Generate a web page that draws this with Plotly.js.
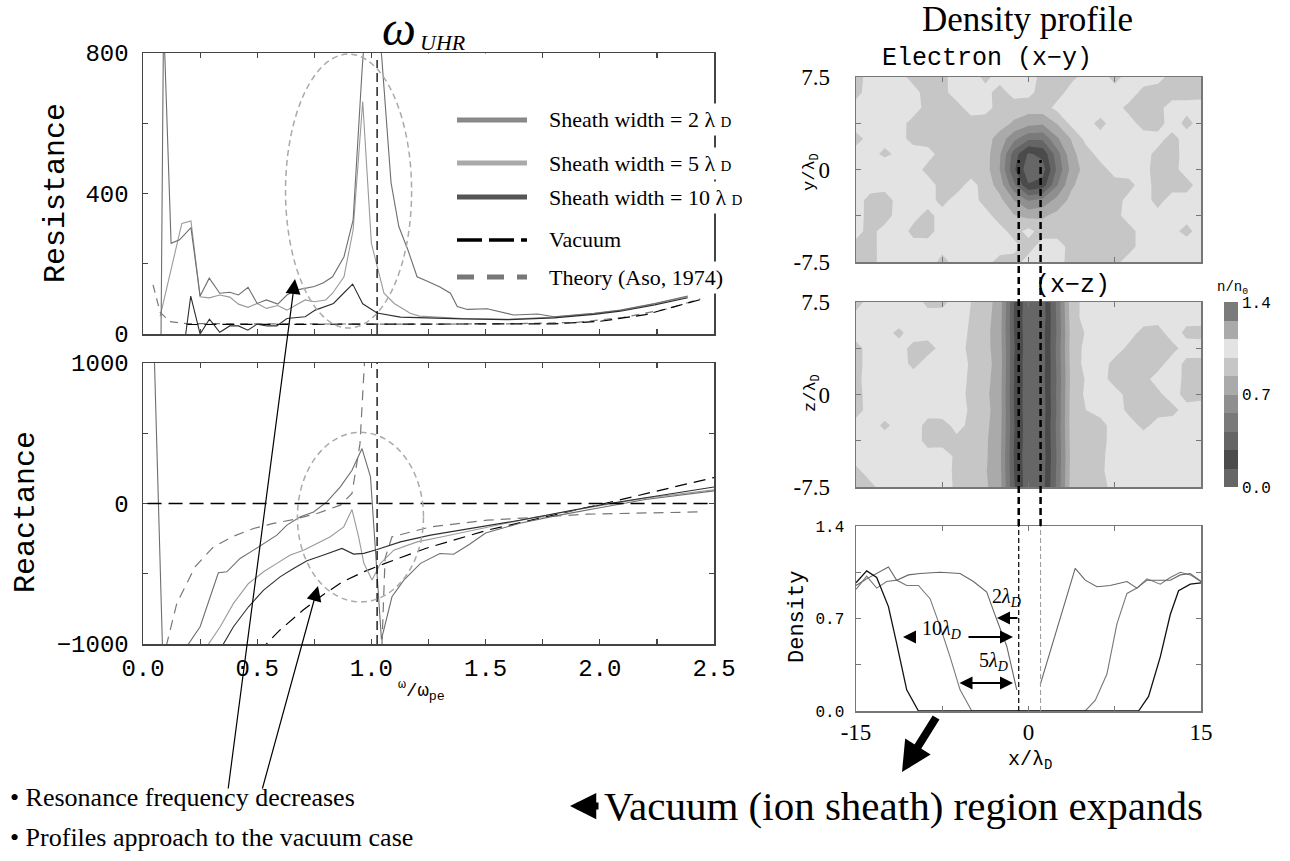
<!DOCTYPE html>
<html><head><meta charset="utf-8">
<script src="https://cdn.plot.ly/plotly-3.0.1.min.js"></script>
<style>html,body{margin:0;padding:0;background:#fff}#chart{width:1290px;height:861px}</style>
</head><body><div id="chart"></div>
<script>
const W=1290,H=861;
const fx=p=>p/W, fy=p=>1-p/H;
const SERIF='"Liberation Serif","Times New Roman",serif';
const MONO='"Liberation Mono","Courier New",monospace';

// ---------- Resistance (top-left) ----------
const R_2LD_X=[0.079,0.09,0.123,0.16,0.21,0.25,0.29,0.336,0.38,0.418,0.46,0.5,0.54,0.59,0.63,0.67,0.75,0.79,0.83,0.88,0.92,0.96,1.0,1.045,1.086,1.12,1.16,1.2,1.25,1.3,1.346,1.376,1.42,1.507,1.623,1.727,1.8,1.975,2.09,2.24,2.385];
const R_2LD=[0,900,258,268,303,108,159,116,119,111,133,87,97,85,111,125,135,146,163,220,325,760,1100,790,431,306,239,163,149,134,116,78,70,72,54,57,49,59,68,87,108];
const R_5LD_X=[0.075,0.17,0.21,0.25,0.29,0.336,0.38,0.418,0.46,0.5,0.54,0.59,0.63,0.67,0.71,0.75,0.8,0.83,0.88,0.92,0.962,1.0,1.025,1.055,1.1,1.17,1.21,1.26,1.4,1.6,1.8,1.975,2.09,2.24,2.385];
const R_5LD=[50,315,322,106,103,111,105,85,76,87,73,81,68,83,97,92,97,116,163,296,662,258,192,116,87,59,51,49,44,42,48,58,67,86,106];
const R_10LD_X=[0.187,0.209,0.25,0.291,0.336,0.38,0.418,0.459,0.499,0.543,0.586,0.63,0.674,0.71,0.754,0.798,0.834,0.878,0.918,0.962,1.025,1.127,1.259,1.4,1.6,1.8,1.975,2.09,2.24,2.385];
const R_10LD=[0,108,0,42,5,23,23,11,28,23,23,44,47,49,68,79,87,116,142,86,60,48,45,43,41,46,56,65,83,103];
const R_TH_X=[0.044,0.075,0.118,0.184,0.4,0.8,1.2,1.6,1.9,2.1,2.3,2.44];
const R_TH=[140,62,35,30,29,28,28,29,33,47,72,100];
const R_VAC_X=[0.19,0.6,1.0,1.4,1.8,2.0,2.2,2.44];
const R_VAC=[27,27,27,27,29,36,55,98];

// ---------- Reactance (bottom-left) ----------
const X_2LD_X=[0.04,0.09,0.13,0.199,0.25,0.294,0.33,0.367,0.425,0.484,0.542,0.586,0.63,0.689,0.747,0.805,0.864,0.915,0.959,0.996,1.044,1.09,1.142,1.215,1.3,1.36,1.43,1.5,1.65,1.8,2.0,2.2,2.5];
const X_2LD=[1600,-1300,-1800,-1000,-877,-664,-493,-486,-391,-332,-273,-225,-154,-95,-60,11,118,237,391,189,-967,-664,-545,-426,-356,-361,-290,-210,-140,-90,-30,28,90];
const X_5LD_X=[0.2,0.287,0.338,0.396,0.462,0.528,0.586,0.645,0.703,0.762,0.82,0.879,0.915,0.944,0.967,1.003,1.04,1.098,1.2,1.3,1.5,1.65,1.8,2.0,2.2,2.5];
const X_5LD=[-1500,-1000,-877,-711,-569,-486,-426,-367,-332,-284,-237,-166,-43,-237,-426,-545,-426,-332,-273,-240,-170,-120,-75,-15,38,98];
const X_10LD_X=[0.3,0.352,0.396,0.462,0.528,0.6,0.659,0.718,0.791,0.871,0.922,0.967,1.025,1.127,1.259,1.65,2.02,2.5];
const X_10LD=[-1300,-1000,-877,-735,-616,-522,-462,-408,-367,-320,-360,-355,-327,-273,-225,-119,-5,118];
const X_TH_X=[0.08,0.104,0.148,0.228,0.309,0.396,0.484,0.571,0.659,0.762,0.864,0.915,0.95,0.975,0.99,null,1.035,1.06,1.09,1.26,1.507,1.946,2.457];
const X_TH=[-1500,-1000,-711,-450,-308,-233,-178,-142,-114,-71,-12,71,426,1000,1600,null,-1500,-390,-237,-166,-119,-76,-59];
const X_VAC_X=[0.5,0.54,0.6,0.7,0.78,0.87,0.967,1.054,1.237,1.507,2.02,2.5];
const X_VAC=[-1200,-1000,-900,-760,-660,-560,-486,-430,-320,-190,0,185];

const FREQ_TICKS=[0,0.25,0.5,0.75,1,1.25,1.5,1.75,2,2.25,2.5];
const FREQ_LABELS=['0.0','','0.5','','1.0','','1.5','','2.0','','2.5'];
const W_UHR=1.025;

// ---------- Density maps ----------
const GX=[-15,-13.75,-12.5,-11.25,-10,-8.75,-7.5,-6.25,-5,-3.75,-2.5,-1.25,0,1.25,2.5,3.75,5,6.25,7.5,8.75,10,11.25,12.5,13.75,15];
const GY=[-7.5,-6.25,-5,-3.75,-2.5,-1.25,0,1.25,2.5,3.75,5,6.25,7.5];
const XY_Z=[
[0.93,0.94,1.03,1.04,1.02,1.05,0.94,1.03,1.04,1.02,0.94,0.93,1.03,1.04,1.02,0.94,0.93,0.92,0.94,1.04,1.02,1.03,1.04,1.12,1.05],
[0.94,0.93,1.04,1.02,1.03,1.04,1.02,1.05,1.03,1.04,1.03,1.02,0.93,1.04,1.03,0.94,0.93,0.92,0.94,0.93,1.04,1.02,1.03,1.05,1.03],
[1.02,0.94,1.03,1.05,0.94,0.93,1.04,1.03,1.02,1.04,1.03,0.93,1.02,0.92,0.93,0.94,0.92,0.93,0.92,0.94,1.03,1.04,1.02,0.94,1.04],
[1.04,0.93,0.92,1.04,1.02,0.94,1.03,1.02,1.04,1.03,0.92,0.85,0.80,0.82,0.88,0.92,0.91,0.93,0.94,1.03,1.04,1.02,1.05,1.03,1.02],
[1.03,0.94,0.93,1.02,1.04,1.03,0.94,1.03,1.04,0.93,0.88,0.70,0.55,0.60,0.75,0.88,0.92,0.91,0.93,1.02,1.03,0.94,1.03,1.02,1.04],
[1.04,1.03,1.02,1.05,1.03,1.04,0.93,0.92,1.03,0.92,0.78,0.45,0.15,0.20,0.55,0.82,0.91,0.92,0.93,0.94,1.04,0.93,0.93,0.94,1.03],
[1.02,1.04,1.12,1.03,1.04,0.94,0.93,0.92,0.91,0.90,0.70,0.30,0.05,0.08,0.45,0.75,0.90,0.93,1.03,1.04,1.02,0.93,0.94,1.03,1.05],
[1.03,1.04,0.94,1.02,1.05,1.03,0.93,0.92,0.91,0.90,0.72,0.35,0.12,0.18,0.50,0.80,0.92,1.03,1.04,1.02,1.03,0.94,0.93,1.03,1.04],
[0.94,1.02,1.04,1.03,0.93,0.92,0.90,0.91,0.92,0.90,0.78,0.60,0.45,0.45,0.68,0.85,1.02,1.03,1.05,1.02,1.04,1.03,0.93,1.04,1.02],
[1.04,1.03,1.05,1.02,0.94,0.92,0.91,0.93,0.92,0.91,0.90,0.82,0.75,0.72,0.85,1.02,1.03,0.94,1.04,1.03,0.93,0.92,1.05,0.94,1.03],
[1.03,1.05,1.02,1.04,1.03,0.94,0.92,0.93,1.04,1.03,0.93,0.91,0.90,0.92,1.02,1.04,1.03,1.05,1.03,0.94,0.93,0.94,1.04,1.02,1.04],
[0.94,1.04,1.03,1.05,1.02,0.93,0.94,1.04,1.03,1.02,0.93,1.03,1.02,0.92,0.93,1.03,1.04,1.02,1.03,1.05,0.94,0.93,0.92,0.94,0.93],
[0.93,1.03,1.04,1.02,0.94,0.92,0.95,1.03,1.04,0.95,1.03,1.02,1.04,0.94,0.93,0.95,1.03,1.04,0.94,1.03,1.05,1.02,0.94,0.93,0.95]];
const XZ_Z=[
[0.94,0.95,1.03,1.04,1.02,1.05,1.03,0.96,0.92,0.86,0.76,0.29,0.05,0.09,0.46,0.91,0.93,0.94,1.02,1.04,1.03,1.05,1.02,1.04,1.03],
[0.95,1.03,1.04,1.05,1.03,1.02,1.04,0.95,0.91,0.85,0.75,0.28,0.05,0.08,0.45,0.90,0.94,0.96,1.03,1.04,1.02,1.04,1.03,1.05,1.03],
[1.03,1.05,1.03,1.04,1.02,1.04,1.03,0.96,0.92,0.86,0.74,0.27,0.04,0.07,0.44,0.89,0.93,0.95,1.04,1.02,1.03,1.05,1.04,1.03,1.04],
[1.04,1.03,1.04,1.02,1.05,0.93,0.94,0.95,0.93,0.86,0.75,0.28,0.05,0.08,0.45,0.90,0.95,0.94,1.03,1.05,1.04,1.03,1.05,1.04,1.02],
[1.02,1.04,0.95,1.03,1.04,0.94,0.93,1.02,0.95,0.87,0.76,0.29,0.05,0.08,0.46,0.91,0.97,0.93,1.04,1.03,0.95,1.02,1.04,1.03,1.05],
[0.94,1.02,1.05,1.03,1.04,1.03,1.05,1.04,0.96,0.88,0.77,0.28,0.04,0.07,0.44,0.91,0.98,1.03,1.04,0.95,0.93,0.94,0.94,1.03,1.04],
[0.93,1.04,1.12,1.03,1.05,1.02,1.04,1.03,0.95,0.87,0.76,0.27,0.05,0.08,0.45,0.90,1.00,1.04,1.03,0.94,0.93,0.95,1.04,0.93,0.94],
[0.95,1.03,1.04,1.02,1.05,1.03,1.04,1.03,0.96,0.88,0.77,0.28,0.05,0.09,0.44,0.89,0.99,1.03,0.93,0.92,0.94,1.03,1.05,0.94,0.93],
[0.93,1.04,1.03,1.05,0.94,1.04,1.03,1.02,0.97,0.89,0.78,0.28,0.04,0.08,0.45,0.90,1.02,1.04,0.94,0.93,0.92,0.93,1.04,0.95,0.94],
[0.94,1.03,1.05,1.03,0.94,0.93,1.02,1.03,0.95,0.88,0.77,0.29,0.05,0.08,0.46,0.91,1.01,1.03,1.04,0.95,0.93,0.92,0.94,1.03,1.05],
[1.03,1.05,1.02,0.95,1.04,1.03,1.02,1.04,0.96,0.88,0.76,0.28,0.05,0.09,0.44,0.90,0.99,1.04,1.05,1.03,0.94,0.93,1.04,0.95,0.93],
[1.02,1.04,1.03,1.05,1.02,1.04,1.03,1.05,0.97,0.89,0.77,0.27,0.04,0.07,0.45,0.92,1.03,1.05,1.04,1.02,1.04,1.03,1.05,1.02,1.04],
[0.93,1.03,1.04,1.02,1.05,0.94,0.95,1.03,0.98,0.90,0.78,0.28,0.05,0.08,0.46,0.93,1.02,1.04,1.03,1.05,1.02,1.04,1.03,1.05,1.02]];

// colour levels n/n0
const LEVEL_START=0.14, LEVEL_END=1.26, LEVEL_STEP=0.14;
const BAND_MID=[0.07,0.21,0.35,0.49,0.63,0.77,0.91,1.05,1.19,1.33];
const BAND_COLORS=['#666666','#4b4b4b','#656565','#7a7a7a','#8f8f8f','#aaaaaa','#c6c6c6','#e3e3e3','#aaaaaa','#7b7b7b'];
const CB_TICKS=[0,0.7,1.4];

// ---------- Density profiles ----------
const D_10LD_X=[-15,-14.07,-13.2,-12.18,-11.46,-10.59,-9.57,9.57,10.44,11.46,12.33,13.05,14.07,15];
const D_10LD=[0.97,1.06,1.01,0.79,0.51,0.16,0.0,0.0,0.11,0.41,0.73,0.91,0.96,0.97];
const D_5LD_X=[-15,-14.07,-13.2,-12.33,-11.46,-10.59,-9.57,-8.56,-7.69,-6.82,-5.95,-4.93,4.93,5.8,6.82,7.69,8.56,9.43,10.3,11.46,12.33,13.2,14.07,15];
const D_5LD=[0.92,1.02,0.93,0.98,0.99,0.95,0.95,0.85,0.64,0.41,0.16,0.0,0.0,0.08,0.28,0.66,0.89,0.93,1.0,0.96,1.01,1.05,1.03,0.98];
const D_2LD_X=[-15,-14.07,-12.18,-11.46,-10.44,-9.43,-7.69,-5.95,-4.79,-3.63,-3.05,-1.89,-1.02,null,1.02,2.18,3.05,4.06,4.93,5.95,7.1,8.56,9.43,10.3,11.46,12.33,13.2,14.07,15];
const D_2LD=[0.95,1.0,1.09,0.99,1.03,1.04,1.05,1.04,0.98,0.9,0.76,0.49,0.16,null,0.2,0.54,0.79,1.08,0.99,0.94,0.95,0.98,0.93,0.99,0.99,0.99,1.03,1.04,0.98];
const SHEATH_EDGE=[-0.85,1.05];

// ---------- traces ----------
const C2='#6e6e6e', C5='#9a9a9a', C10='#2e2e2e', CTH='#777777';
function ln(x,y,xa,ya,color,width,dash){return {type:'scatter',mode:'lines',x:x,y:y,xaxis:xa,yaxis:ya,line:{color:color,width:width,dash:dash||'solid'},hoverinfo:'skip',showlegend:false};}
const step=BAND_COLORS.map((c,i)=>[i/9,c]);
const traces=[
 ln(R_TH_X,R_TH,'x','y',CTH,1.2,'8px,6px'),
 ln(R_VAC_X,R_VAC,'x','y','#000',1.2,'12px,6px'),
 ln(R_5LD_X,R_5LD,'x','y',C5,1.1),
 ln(R_2LD_X,R_2LD,'x','y',C2,1.1),
 ln(R_10LD_X,R_10LD,'x','y',C10,1.1),
 ln(X_TH_X,X_TH,'x2','y2',CTH,1.2,'10px,7px'),
 ln(X_VAC_X,X_VAC,'x2','y2','#000',1.2,'12px,7px'),
 ln(X_5LD_X,X_5LD,'x2','y2',C5,1.1),
 ln(X_2LD_X,X_2LD,'x2','y2',C2,1.1),
 ln(X_10LD_X,X_10LD,'x2','y2',C10,1.1),
 {type:'contour',x:GX,y:GY,z:XY_Z,xaxis:'x3',yaxis:'y3',colorscale:step,showscale:false,hoverinfo:'skip',
  contours:{start:LEVEL_START,end:LEVEL_END,size:LEVEL_STEP,coloring:'fill',showlines:false},line:{width:0,smoothing:0}},
 {type:'contour',x:GX,y:GY,z:XZ_Z,xaxis:'x4',yaxis:'y4',colorscale:step,showscale:false,hoverinfo:'skip',
  contours:{start:LEVEL_START,end:LEVEL_END,size:LEVEL_STEP,coloring:'fill',showlines:false},line:{width:0,smoothing:0}},
 {type:'heatmap',x:[0],y:BAND_MID,z:BAND_MID.map(v=>[v]),xaxis:'x6',yaxis:'y6',colorscale:step,zmin:BAND_MID[0],zmax:BAND_MID[9],showscale:false,hoverinfo:'skip'},
 ln(D_5LD_X,D_5LD,'x5','y5','#777',1.1),
 ln(D_2LD_X,D_2LD,'x5','y5','#666',1.1),
 ln(D_10LD_X,D_10LD,'x5','y5','#111',1.3)
];

// ---------- axes ----------
function ax(o){return Object.assign({showline:true,linecolor:'#444',linewidth:1.5,mirror:'ticks',ticks:'inside',ticklen:5,tickwidth:1.2,tickcolor:'#444',showgrid:false,zeroline:false,automargin:false,fixedrange:true,tickmode:'array'},o);}
const GRAYAX={linecolor:'#777',tickcolor:'#777'};
const layout={
 width:W,height:H,margin:{l:0,r:0,t:0,b:0},paper_bgcolor:'#fff',plot_bgcolor:'rgba(0,0,0,0)',showlegend:false,
 font:{family:MONO,color:'#000'},
 xaxis:ax({domain:[fx(143),fx(714)],range:[0,2.5],anchor:'y',tickvals:FREQ_TICKS,showticklabels:false}),
 yaxis:ax({domain:[fy(334),fy(53)],range:[0,800],anchor:'x',tickvals:[0,200,400,600,800],ticktext:['0','','400','','800'],tickfont:{family:MONO,size:24},ticklabelstandoff:8}),
 xaxis2:ax({domain:[fx(143),fx(714)],range:[0,2.5],anchor:'y2',tickvals:FREQ_TICKS,ticktext:FREQ_LABELS,tickfont:{family:MONO,size:24},ticklabelstandoff:2}),
 yaxis2:ax({domain:[fy(644),fy(363)],range:[-1000,1000],anchor:'x2',tickvals:[-1000,-500,0,500,1000],ticktext:['\u22121000','','0','','1000'],tickfont:{family:MONO,size:24},ticklabelstandoff:8}),
 xaxis3:ax(Object.assign({domain:[fx(856),fx(1201)],range:[-15,15],anchor:'y3',tickvals:[-15,-7.5,0,7.5,15],showticklabels:false},GRAYAX)),
 yaxis3:ax(Object.assign({domain:[fy(262),fy(77)],range:[-7.5,7.5],anchor:'x3',tickvals:[-7.5,-3.75,0,3.75,7.5],ticktext:['-7.5','','0','','7.5'],tickfont:{family:SERIF,size:23},ticklabelstandoff:20},GRAYAX)),
 xaxis4:ax(Object.assign({domain:[fx(856),fx(1201)],range:[-15,15],anchor:'y4',tickvals:[-15,-7.5,0,7.5,15],showticklabels:false},GRAYAX)),
 yaxis4:ax(Object.assign({domain:[fy(487),fy(302)],range:[-7.5,7.5],anchor:'x4',tickvals:[-7.5,-3.75,0,3.75,7.5],ticktext:['-7.5','','0','','7.5'],tickfont:{family:SERIF,size:23},ticklabelstandoff:20},GRAYAX)),
 xaxis5:ax(Object.assign({domain:[fx(856),fx(1201)],range:[-15,15],anchor:'y5',tickvals:[-15,-7.5,0,7.5,15],ticktext:['-15','','0','','15'],tickfont:{family:SERIF,size:23},ticklabelstandoff:0},GRAYAX)),
 yaxis5:ax(Object.assign({domain:[fy(711),fy(526)],range:[0,1.4],anchor:'x5',tickvals:[0,0.35,0.7,1.05,1.4],ticktext:['0.0','','0.7','','1.4'],tickfont:{family:MONO,size:16},ticklabelstandoff:7},GRAYAX)),
 xaxis6:{domain:[fx(1224),fx(1238)],range:[-0.5,0.5],anchor:'y6',visible:false,fixedrange:true},
 yaxis6:{domain:[fy(487),fy(302)],range:[0,1.4],anchor:'x6',side:'right',showline:false,ticks:'',showgrid:false,zeroline:false,tickmode:'array',tickvals:CB_TICKS,ticktext:['0.0','0.7','1.4'],tickfont:{family:MONO,size:16},ticklabelstandoff:3,automargin:false,fixedrange:true}
};

// ---------- shapes ----------
const DASHV={color:'#000',width:1.3,dash:'9px,5px'};
const ELL={color:'#aaa',width:1.5,dash:'6px,4px'};
const shapes=[
 {type:'line',xref:'x',yref:'y',x0:W_UHR,x1:W_UHR,y0:0,y1:780,line:DASHV},
 {type:'line',xref:'x2',yref:'y2',x0:W_UHR,x1:W_UHR,y0:-1000,y1:1000,line:DASHV},
 {type:'line',xref:'x2',yref:'y2',x0:0.02,x1:2.5,y0:0,y1:0,line:{color:'#000',width:1.3,dash:'14px,7px'}},
 {type:'circle',xref:'x',yref:'y',x0:0.624,x1:1.176,y0:17,y1:797,line:ELL},
 {type:'circle',xref:'x2',yref:'y2',x0:0.676,x1:1.228,y0:-701,y1:507,line:ELL},
 {type:'line',xref:'x5',yref:'paper',x0:SHEATH_EDGE[0],x1:SHEATH_EDGE[0],y0:fy(526),y1:fy(160),line:{color:'#000',width:2.5,dash:'7px,4px'}},
 {type:'line',xref:'x5',yref:'paper',x0:SHEATH_EDGE[1],x1:SHEATH_EDGE[1],y0:fy(526),y1:fy(160),line:{color:'#000',width:2.5,dash:'7px,4px'}},
 {type:'line',xref:'x5',yref:'y5',x0:SHEATH_EDGE[0],x1:SHEATH_EDGE[0],y0:0,y1:1.4,line:{color:'#000',width:1.2,dash:'5px,3px'}},
 {type:'line',xref:'x5',yref:'y5',x0:SHEATH_EDGE[1],x1:SHEATH_EDGE[1],y0:0,y1:1.4,line:{color:'#999',width:1,dash:'5px,3px'}}
];
const LEG_ROWS=[120,163,197,240,277];
const LEG_STYLE=[{color:'#888',width:5,dash:'solid'},{color:'#aaa',width:5,dash:'solid'},{color:'#555',width:5,dash:'solid'},{color:'#000',width:3.5,dash:'25px,7px'},{color:'#777',width:5,dash:'17px,13px'}];
const LEG_TEXT=['Sheath width = 2 λ <span style="font-size:15px">D</span>','Sheath width = 5 λ <span style="font-size:15px">D</span>','Sheath width = 10 λ <span style="font-size:15px">D</span>','Vacuum','Theory (Aso, 1974)'];
LEG_ROWS.forEach((r,i)=>shapes.push({type:'line',xref:'paper',yref:'paper',x0:fx(457),x1:fx(527),y0:fy(r),y1:fy(r),line:LEG_STYLE[i]}));

// ---------- annotations ----------
const A=[];
function txt(text,px,py,size,family,o){A.push(Object.assign({xref:'paper',yref:'paper',x:fx(px),y:fy(py),text:text,showarrow:false,font:{family:family,size:size,color:'#000'},xanchor:'center',yanchor:'middle'},o||{}));}
function arrow(hx,hy,tx,ty,w,size,o){A.push(Object.assign({xref:'paper',yref:'paper',x:fx(hx),y:fy(hy),ax:tx-hx,ay:ty-hy,text:'',showarrow:true,arrowhead:2,arrowwidth:w,arrowsize:size,arrowcolor:'#000'},o||{}));}
A.push({xref:'paper',yref:'paper',x:fx(422),y:fy(53),text:' ',showarrow:false,bgcolor:'#fff',width:90,height:8,borderpad:0});
txt('<i>ω</i>',399,29,48,SERIF);
txt('<i>UHR</i>',443,42,22,SERIF);
LEG_ROWS.forEach((r,i)=>txt(LEG_TEXT[i],545,r,22,SERIF,{xanchor:'left',bgcolor:'#fff',borderpad:3}));
txt('Resistance',56,193,30,MONO,{textangle:-90});
txt('Reactance',26,512,30,MONO,{textangle:-90});
txt('<sup>ω</sup>/ω<sub>pe</sub>',421,690,19,MONO);
txt('Density profile',1027,19,35,SERIF);
txt('Electron (x\u2212y)',987,58,25,MONO);
txt('(x\u2212z)',1072,286,25,MONO);
txt('y/λ<sub>D</sub>',811,172,17,MONO,{textangle:-90});
txt('z/λ<sub>D</sub>',812,393,17,MONO,{textangle:-90});
txt('Density',797,617,22,MONO,{textangle:-90});
txt('x/λ<sub>D</sub>',1030,760,20,MONO);
txt('n/n<sub>0</sub>',1232,288,14,MONO);
txt('2<i>λ<sub>D</sub></i>',1006,597,20,SERIF);
txt('10<i>λ<sub>D</sub></i>',941,629,20,SERIF);
txt('5<i>λ<sub>D</sub></i>',994,661,20,SERIF);
arrow(997,618,1019,618,2,1.3);
arrow(903,637,917,637,2,1.3);
arrow(1013,637,967,637,2,1.3);
arrow(1013,683,958,683,2,1.3,{arrowside:'end+start'});
arrow(295,279,228,790,1.2,2.5);
arrow(318,586,262,790,1.2,2.5);
arrow(902,772,937,716,8,0.75);
arrow(570,806,600,806,7,0.75);
txt('• Resonance frequency decreases',8,797,26,SERIF,{xanchor:'left'});
txt('• Profiles approach to the vacuum case',8,837,26,SERIF,{xanchor:'left'});
txt('Vacuum (ion sheath) region expands',602,806,41,SERIF,{xanchor:'left'});
layout.shapes=shapes;
layout.annotations=A;

Plotly.newPlot('chart',traces,layout,{staticPlot:true,displayModeBar:false});
</script></body></html>
